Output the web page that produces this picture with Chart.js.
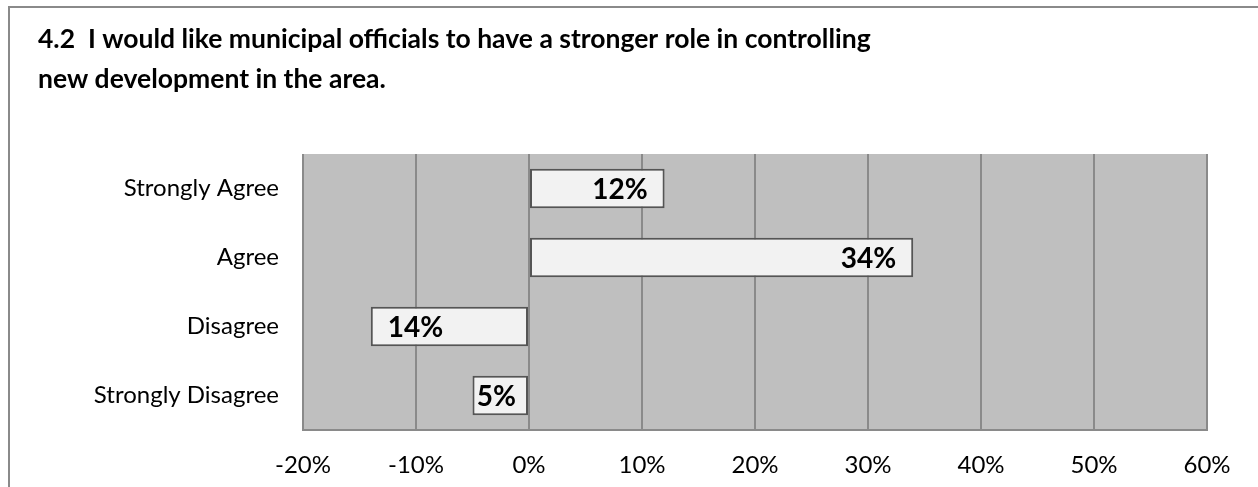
<!DOCTYPE html>
<html>
<head>
<meta charset="utf-8">
<script src="https://cdn.jsdelivr.net/npm/chart.js@4/dist/chart.umd.min.js"></script>
<style>
  html, body { margin: 0; padding: 0; background: #fff; }
  #wrap { width: 1258px; height: 487px; }
</style>
</head>
<body>
<div id="wrap"><canvas id="c" width="1258" height="487"></canvas></div>
<script>
// Survey responses for question 4.2
const titleLines = [
  '4.2  I would like municipal officials to have a stronger role in controlling',
  'new development in the area.'
];
const categories = ['Strongly Agree', 'Agree', 'Disagree', 'Strongly Disagree'];
const values = [12, 34, -14, -5];          // percent; disagreement plotted as negative
const labelValues = [12, 34, 14, 5];       // value text shown inside each bar
const axisMin = -20;
const axisMax = 60;
const axisStep = 10;

const FONT = 'Lato, "Open Sans", sans-serif';
const GRID = '#8a8a8a';

// Gray plot background plus the outer frame of the chart
const backdrop = {
  id: 'backdrop',
  beforeDraw(chart) {
    const { ctx, chartArea: a } = chart;
    ctx.save();
    ctx.fillStyle = '#fff';
    ctx.fillRect(0, 0, chart.width, chart.height);
    ctx.fillStyle = '#bfbfbf';
    ctx.fillRect(a.left, a.top, a.right - a.left, a.bottom - a.top);
    ctx.strokeStyle = GRID;
    ctx.lineWidth = 2;
    ctx.beginPath();
    ctx.moveTo(9, chart.height + 2);
    ctx.lineTo(9, 7);
    ctx.lineTo(chart.width + 2, 7);
    ctx.stroke();
    ctx.restore();
  }
};

// Value text placed inside the outer end of each bar
const barText = {
  id: 'barText',
  afterDatasetsDraw(chart) {
    const { ctx } = chart;
    const meta = chart.getDatasetMeta(0);
    ctx.save();
    ctx.font = 'bold 28px ' + FONT;
    ctx.fillStyle = '#000';
    ctx.textBaseline = 'middle';
    meta.data.forEach((bar, i) => {
      const txt = labelValues[i] + '%';
      const tw = ctx.measureText(txt).width;
      const w = Math.abs(bar.x - bar.base);
      const pad = Math.min(17, w - tw - 12);
      if (values[i] >= 0) {
        ctx.textAlign = 'right';
        ctx.fillText(txt, bar.x - pad, bar.y + 1);
      } else {
        ctx.textAlign = 'left';
        ctx.fillText(txt, bar.x + pad, bar.y + 1);
      }
    });
    ctx.restore();
  }
};

function draw() {
  new Chart(document.getElementById('c'), {
    type: 'bar',
    data: {
      labels: categories,
      datasets: [{
        data: values,
        backgroundColor: '#f2f2f2',
        borderColor: '#555555',
        borderWidth: 2,
        borderSkipped: false,
        categoryPercentage: 1,
        barPercentage: 0.57
      }]
    },
    options: {
      indexAxis: 'y',
      responsive: false,
      animation: false,
      devicePixelRatio: 1,
      layout: { padding: { left: 38, right: 51, top: 0, bottom: 0 } },
      plugins: {
        legend: { display: false },
        tooltip: { enabled: false },
        title: {
          display: true,
          text: titleLines,
          align: 'start',
          color: '#000',
          font: { family: FONT, size: 26.5, weight: 'bold', lineHeight: '40px' },
          padding: { top: 19, bottom: 55 }
        }
      },
      scales: {
        x: {
          min: axisMin,
          max: axisMax,
          grid: { color: GRID, lineWidth: 2, drawTicks: false },
          border: { display: true, color: GRID, width: 2 },
          ticks: {
            stepSize: axisStep,
            padding: 21,
            color: '#000',
            font: { family: FONT, size: 24 },
            callback: v => v + '%'
          },
          afterFit(scale) { scale.height = 57; }
        },
        y: {
          grid: { display: false, drawTicks: false },
          border: { display: false },
          ticks: {
            padding: 24,
            color: '#000',
            font: { family: FONT, size: 24 }
          },
          afterFit(scale) { scale.width = 265; }
        }
      }
    },
    plugins: [backdrop, barText]
  });
}

if (document.fonts && document.fonts.load) {
  Promise.all([
    document.fonts.load('bold 22px Lato'),
    document.fonts.load('22px Lato')
  ]).then(draw, draw);
} else {
  draw();
}
</script>
</body>
</html>
